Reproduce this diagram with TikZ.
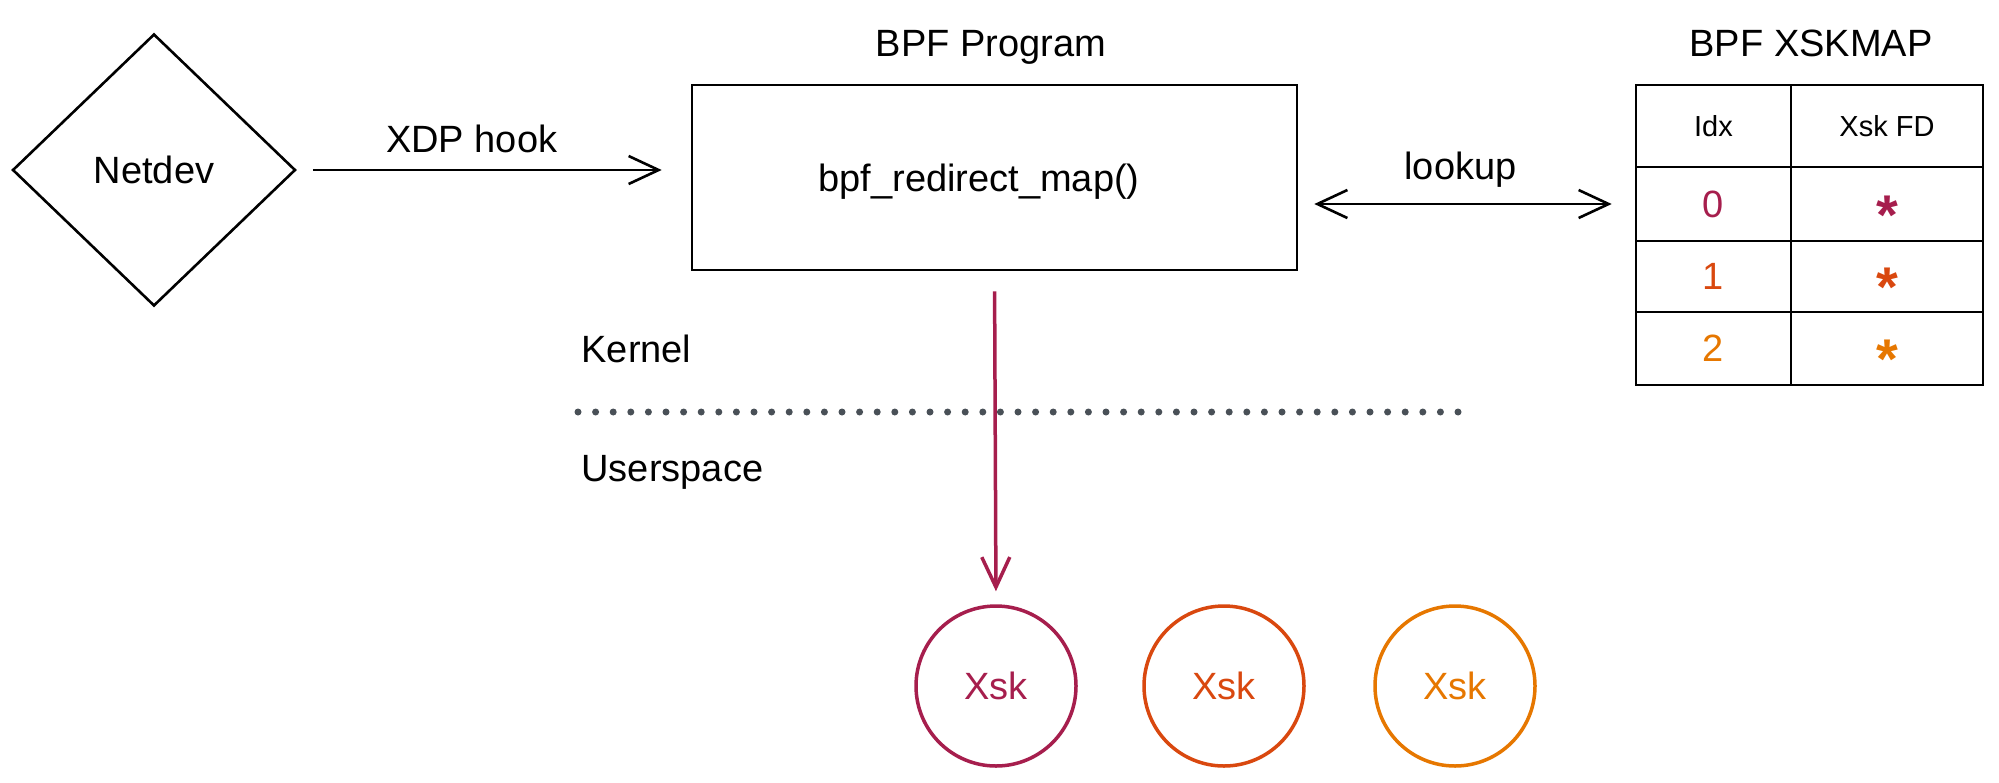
\documentclass[tikz,border=0pt]{standalone}
\usepackage{fontspec}
\setmainfont{Liberation Sans}
\usepackage{tikz}
\usetikzlibrary{arrows.meta, positioning, shapes.geometric}

\definecolor{xcrimson}{HTML}{A61E4D}
\definecolor{xred}{HTML}{D9480F}
\definecolor{xorange}{HTML}{E67700}
\definecolor{xgray}{HTML}{495057}

\begin{document}
\begin{tikzpicture}[x=1pt, y=-1pt, >={Straight Barb[length=30pt,width=28pt]},
        label/.style={font=\fontsize{38}{42}\selectfont},
        small/.style={font=\fontsize{29}{33}\selectfont},
        block/.style={rectangle, draw, line width=2.6pt, minimum width=605pt, minimum height=185pt},
        sock/.style={circle, draw, line width=3.5pt, minimum size=160pt, font=\fontsize{38}{42}\selectfont},
        fd/.style={font=\bfseries\fontsize{56}{56}\selectfont, yshift=-11pt},
        link/.style={line width=2.6pt}
        ]
        \useasboundingbox (0,0) rectangle (1999,782);

        % Nodes
        \node [diamond, draw, line width=2.6pt, minimum width=283pt, minimum height=272pt, label] (netdev) at (154,170) {Netdev};
        \node [block] (prog) at (994.5,177.5) {};
        \node [label] (progfn) at (979,182) {bpf\_redirect\_map()};
        \node [label] (progtitle) at (991,47) {BPF Program};

        \node [rectangle, draw, line width=2.6pt, minimum width=347pt, minimum height=300pt] (map) at (1809.5,235) {};
        \node [label] (maptitle) at (1811,43) {BPF XSKMAP};
        \node [small] (idxhead) at (1713.5,126) {Idx};
        \node [small] (fdhead) at (1887,126) {Xsk FD};
        \node [label, text=xcrimson] (idx0) at (1713.5,204) {0};
        \node [label, text=xred] (idx1) at (1713.5,276.5) {1};
        \node [label, text=xorange] (idx2) at (1713.5,348.5) {2};
        \node [fd, text=xcrimson] (fd0) at (1887,204) {*};
        \node [fd, text=xred] (fd1) at (1887,276.5) {*};
        \node [fd, text=xorange] (fd2) at (1887,348.5) {*};

        \node [label, anchor=west] (kernel) at (578,349) {Kernel};
        \node [label, anchor=west] (user) at (578,472) {Userspace};
        \coordinate (sepl) at (578,412);
        \coordinate (sepr) at (1467,412);

        \node [sock, draw=xcrimson, text=xcrimson] (xsk0) at (996,686) {Xsk};
        \node [sock, draw=xred, text=xred] (xsk1) at (1224,686) {Xsk};
        \node [sock, draw=xorange, text=xorange] (xsk2) at (1455,686) {Xsk};

        % Table lines
        \draw [link] (1791,85) -- (1791,385);
        \draw [link] (1636,167) -- (1983,167);
        \draw [link] (1636,241) -- (1983,241);
        \draw [link] (1636,312) -- (1983,312);

        % Edges
        \draw [->, link, shorten <=16pt, shorten >=29pt] (netdev.east) -- node[label, above=12pt, xshift=-22pt] {XDP hook} (prog.west |- netdev.east);
        \draw [<->, link, shorten <=16pt, shorten >=23pt] (prog.east |- idx0) -- node[label, above=12pt, xshift=-6pt] {lookup} (map.west |- idx0);
        \draw [->, xcrimson, line width=3.5pt, shorten <=20pt, shorten >=13pt] (prog.south) -- (xsk0.north);

        % Separator
        \draw [xgray, line width=7pt, line cap=round, dash pattern=on 0pt off 17.6pt] (sepl) -- (sepr);

    \end{tikzpicture}
\end{document}
